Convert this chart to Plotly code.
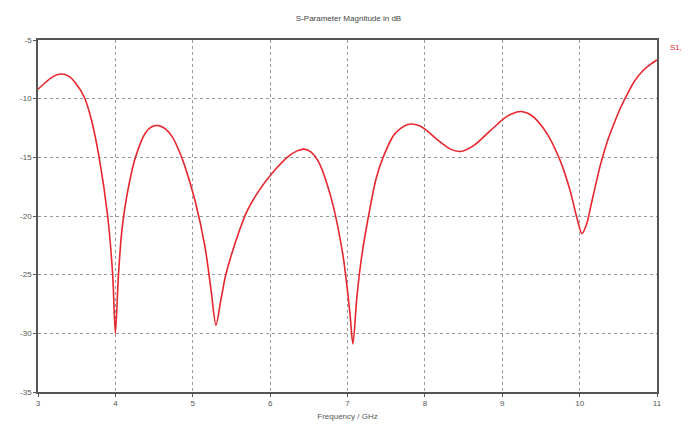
import plotly.graph_objects as go

freq_ghz = [3.0, 3.1, 3.2, 3.3, 3.4, 3.49, 3.6, 3.69, 3.79, 3.90, 3.965, 4.0, 4.04, 4.08, 4.14, 4.26, 4.39,
            4.47, 4.56, 4.65, 4.74, 4.82, 4.89, 5.03, 5.16, 5.24, 5.30, 5.36, 5.42, 5.50, 5.60, 5.70, 5.85, 6.02,
            6.24, 6.35, 6.44, 6.53, 6.62, 6.79, 6.94, 7.03, 7.07, 7.12, 7.18, 7.28, 7.37, 7.46, 7.61,
            7.78, 7.93, 8.05, 8.16, 8.33, 8.46, 8.63, 8.85, 9.02, 9.12, 9.24, 9.33, 9.41, 9.58, 9.75,
            9.88, 9.97, 10.03, 10.09, 10.15, 10.27, 10.36, 10.44, 10.52, 10.61, 10.71, 10.82, 10.91, 11.0]
s11_db = [-9.2, -8.6, -8.1, -7.9, -8.1, -8.7, -9.9, -11.8, -15.0, -20.0, -25.0, -30.0, -25.0, -21.5,
          -18.6, -15.0, -12.9, -12.4, -12.3, -12.6, -13.3, -14.4, -15.6, -18.7, -22.7, -26.5, -29.3, -27.3,
          -25.2, -23.3, -21.3, -19.6, -17.9, -16.4, -14.9, -14.45, -14.3, -14.55, -15.3, -18.5,
          -23.3, -28.2, -30.9, -27.0, -23.6, -19.7, -16.8, -15.0, -13.0, -12.2, -12.3, -12.85,
          -13.5, -14.3, -14.5, -14.0, -12.7, -11.7, -11.3, -11.1, -11.25, -11.6, -13.0, -15.3,
          -17.9, -20.3, -21.5, -20.7, -19.0, -15.6, -13.6, -12.2, -10.9, -9.7, -8.5, -7.6, -7.1,
          -6.7]

x_ticks = [3, 4, 5, 6, 7, 8, 9, 10, 11]
y_ticks = [-5, -10, -15, -20, -25, -30, -35]

fig = go.Figure()
fig.add_trace(go.Scatter(
    x=freq_ghz, y=s11_db, mode="lines",
    line=dict(color="#e8262e", width=1.6, shape="spline", smoothing=0.8),
    showlegend=False,
))

axis_font = dict(family="Liberation Sans, Arial, sans-serif", size=8, color="#555555")

fig.update_layout(
    width=681, height=425,
    margin=dict(l=27, r=32, t=32, b=41),
    paper_bgcolor="white", plot_bgcolor="white",
    title=dict(text="S-Parameter Magnitude in dB", x=0.5, xanchor="center", y=0.976, yanchor="middle",
               font=dict(family="Liberation Sans, Arial, sans-serif", size=8, color="#444444")),
    xaxis=dict(range=[3, 11], tickvals=x_ticks, ticktext=[str(v) for v in x_ticks],
               showgrid=True, gridcolor="#999999", griddash="dot", gridwidth=1,
               showline=True, linecolor="#555555", linewidth=1.5, mirror=True,
               ticks="outside", ticklen=3, tickcolor="#555555",
               tickfont=axis_font, zeroline=False,
               title=dict(text="Frequency / GHz", font=axis_font, standoff=6)),
    yaxis=dict(range=[-35, -5], tickvals=y_ticks, ticktext=[str(v) for v in y_ticks],
               showgrid=True, gridcolor="#999999", griddash="dot", gridwidth=1,
               showline=True, linecolor="#555555", linewidth=1.5, mirror=True,
               ticks="outside", ticklen=3, tickcolor="#555555",
               tickfont=axis_font, zeroline=False),
    annotations=[dict(text="S1,1", xref="paper", yref="paper", x=1.018, y=0.98,
                      xanchor="left", yanchor="middle", showarrow=False,
                      font=dict(family="Liberation Sans, Arial, sans-serif", size=8, color="#e8262e"))],
)

fig.write_html("out.html")
